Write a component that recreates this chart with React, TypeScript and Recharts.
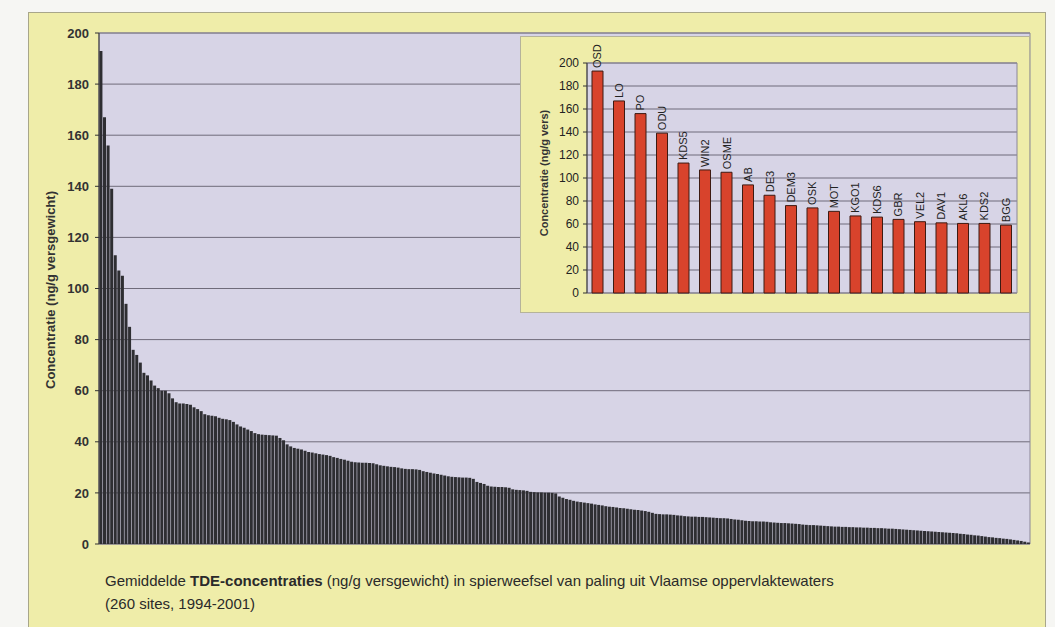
import React from 'react';
import { BarChart, Bar, XAxis, YAxis, CartesianGrid, ReferenceArea, LabelList } from 'recharts';

// Mean TDE concentration per site (ng/g fresh weight), 260 sites sorted descending
const siteValues: number[] = [
  193, 167, 156, 139, 113, 107, 105, 94, 85, 76, 74, 71, 67, 66, 64, 62, 61, 60, 60, 59,
  57, 55.5, 55, 55, 54.8, 54.5, 53.5, 52.8, 52, 50.8,
  50.4, 50.2, 50, 49.4, 49, 48.8, 48.5, 47.8, 46.8, 46,
  45.5, 44.8, 44.2, 43.4, 43, 42.8, 42.7, 42.6, 42.5, 42.4,
  41.5, 40.6, 39, 38.2, 37.6, 37.3, 37, 36.5, 36, 35.8,
  35.5, 35.2, 35, 34.8, 34.5, 34, 33.7, 33.3, 33, 32.6,
  32.2, 32, 31.9, 31.8, 31.8, 31.7, 31.6, 31.2, 30.8, 30.6,
  30.4, 30.2, 30.1, 29.9, 29.6, 29.4, 29.3, 29.3, 29.2, 29,
  28.5, 28.2, 27.9, 27.6, 27.4, 27.1, 26.8, 26.5, 26.3, 26.2,
  26.1, 26, 26, 25.9, 25.5, 24.3, 23.9, 23.5, 22.8, 22.5,
  22.4, 22.3, 22.3, 22.2, 22, 21.4, 21.2, 21.1, 21, 20.8,
  20.4, 20.3, 20.2, 20.2, 20.1, 20.1, 20, 19.8, 18.6, 18.1,
  17.6, 17.3, 16.9, 16.6, 16.4, 16.2, 16, 15.8, 15.5, 15.3,
  15.1, 14.8, 14.6, 14.5, 14.3, 14.1, 14, 13.8, 13.6, 13.4,
  13.3, 13.1, 12.9, 12.6, 12.2, 11.8, 11.7, 11.6, 11.6, 11.5,
  11.4, 11.2, 11.1, 10.9, 10.8, 10.7, 10.7, 10.6, 10.6, 10.5,
  10.4, 10.3, 10.2, 10.1, 10.1, 10, 9.8, 9.6, 9.5, 9.3,
  9.1, 9, 8.9, 8.9, 8.8, 8.8, 8.7, 8.5, 8.4, 8.3,
  8.2, 8.2, 8.1, 8, 7.9, 7.8, 7.6, 7.5, 7.4, 7.4,
  7.3, 7.2, 7.1, 7, 6.9, 6.8, 6.8, 6.7, 6.7, 6.6,
  6.6, 6.5, 6.5, 6.4, 6.4, 6.3, 6.3, 6.2, 6.2, 6.1,
  6, 6, 5.9, 5.8, 5.7, 5.6, 5.5, 5.4, 5.3, 5.2,
  5.1, 5, 4.9, 4.8, 4.7, 4.6, 4.5, 4.4, 4.3, 4.2,
  4, 3.9, 3.7, 3.6, 3.4, 3.3, 3.1, 2.9, 2.7, 2.6,
  2.4, 2.3, 2.1, 2, 1.8, 1.6, 1.4, 1.2, 0.9, 0.6,
];

// Top 20 sites (inset)
const insetSites: string[] = [
  'OSD', 'LO', 'PO', 'ODU', 'KDS5', 'WIN2', 'OSME', 'AB', 'DE3', 'DEM3',
  'OSK', 'MOT', 'KGO1', 'KDS6', 'GBR', 'VEL2', 'DAV1', 'AKL6', 'KDS2', 'BGG',
];
const insetValues: number[] = [
  193, 167, 156, 139, 113, 107, 105, 94, 85, 76,
  74, 71, 67, 66, 64, 62, 61, 60.5, 60.5, 59,
];

const yTicks: number[] = [0, 20, 40, 60, 80, 100, 120, 140, 160, 180, 200];

const mainData = siteValues.map((v, i) => ({ rank: i + 1, value: v }));
const insetData = insetSites.map((s, i) => ({ site: s, value: insetValues[i] }));

const FONT = '"Liberation Sans", Arial, sans-serif';
const YELLOW = '#efeda9';
const LAVENDER = '#d7d4e6';
const GRID = '#6f6b7a';

const renderSiteLabel = (props: any) => {
  const { x, y, width, value } = props;
  const cx = Number(x) + Number(width) / 2;
  const ty = Number(y) - 3;
  return (
    <text
      x={cx}
      y={ty}
      transform={`rotate(-90 ${cx} ${ty})`}
      textAnchor="start"
      dominantBaseline="central"
      fontSize={11}
      fontFamily={FONT}
      fill="#222"
    >
      {value}
    </text>
  );
};

export default function App() {
  return (
    <div
      style={{
        position: 'absolute',
        left: 0,
        top: 0,
        width: 1055,
        height: 627,
        background: '#f6f6f3',
        overflow: 'hidden',
        fontFamily: FONT,
      }}
    >
      {/* yellow panel */}
      <div
        style={{
          position: 'absolute',
          left: 28,
          top: 12,
          width: 1016,
          height: 640,
          background: YELLOW,
          border: '1px solid #a8a68a',
        }}
      />

      {/* main chart */}
      <div style={{ position: 'absolute', left: 0, top: 0 }}>
        <BarChart
          width={1055}
          height={627}
          data={mainData}
          margin={{ top: 33, right: 25, bottom: 83, left: 39 }}
          barCategoryGap="12%"
        >
          <CartesianGrid
            vertical={false}
            stroke={GRID}
            strokeWidth={1}
            fill={LAVENDER}
            fillOpacity={1}
          />
          <XAxis dataKey="rank" hide />
          <YAxis
            width={60}
            domain={[0, 200]}
            ticks={yTicks}
            interval={0}
            tickSize={4}
            tickMargin={6}
            axisLine={{ stroke: '#333' }}
            tickLine={{ stroke: '#333' }}
            tick={{ fontSize: 13, fontWeight: 700, fill: '#333', fontFamily: FONT }}
          />
          <ReferenceArea y1={0} y2={200} fill="none" stroke="#8a8798" strokeWidth={1} ifOverflow="visible" />
          <Bar dataKey="value" fill="#2e2e32" isAnimationActive={false} />
        </BarChart>
      </div>

      {/* main y-axis title */}
      <div
        style={{
          position: 'absolute',
          left: 50,
          top: 290,
          transform: 'translate(-50%, -50%) rotate(-90deg)',
          whiteSpace: 'nowrap',
          fontSize: 13,
          fontWeight: 700,
          color: '#333',
        }}
      >
        Concentratie (ng/g versgewicht)
      </div>

      {/* inset */}
      <div
        style={{
          position: 'absolute',
          left: 520,
          top: 36,
          width: 510,
          height: 277,
          background: YELLOW,
          border: '1px solid #b5b39a',
          boxSizing: 'border-box',
        }}
      >
        <BarChart
          width={510}
          height={277}
          data={insetData}
          margin={{ top: 26, right: 14, bottom: 21, left: 36 }}
        >
          <CartesianGrid
            vertical={false}
            stroke={GRID}
            strokeWidth={1}
            fill={LAVENDER}
            fillOpacity={1}
          />
          <XAxis dataKey="site" hide />
          <YAxis
            width={30}
            domain={[0, 200]}
            ticks={yTicks}
            interval={0}
            tickSize={4}
            tickMargin={4}
            axisLine={{ stroke: '#333' }}
            tickLine={{ stroke: '#333' }}
            tick={{ fontSize: 12, fill: '#222', fontFamily: FONT }}
          />
          <ReferenceArea y1={0} y2={200} fill="none" stroke="#8a8798" strokeWidth={1} ifOverflow="visible" />
          <Bar dataKey="value" fill="#d8432c" stroke="#3d1a12" strokeWidth={1} barSize={11} isAnimationActive={false}>
            <LabelList dataKey="site" content={renderSiteLabel} />
          </Bar>
        </BarChart>
        <div
          style={{
            position: 'absolute',
            left: 23,
            top: 136,
            transform: 'translate(-50%, -50%) rotate(-90deg)',
            whiteSpace: 'nowrap',
            fontSize: 11,
            fontWeight: 700,
            color: '#333',
          }}
        >
          Concentratie (ng/g vers)
        </div>
      </div>

      {/* caption */}
      <div
        style={{
          position: 'absolute',
          left: 105,
          top: 569,
          fontSize: 15,
          lineHeight: '23px',
          color: '#2a2a2a',
          whiteSpace: 'nowrap',
        }}
      >
        <div>
          Gemiddelde <b>TDE-concentraties</b> (ng/g versgewicht) in spierweefsel van paling uit Vlaamse oppervlaktewaters
        </div>
        <div>(260 sites, 1994-2001)</div>
      </div>
    </div>
  );
}
